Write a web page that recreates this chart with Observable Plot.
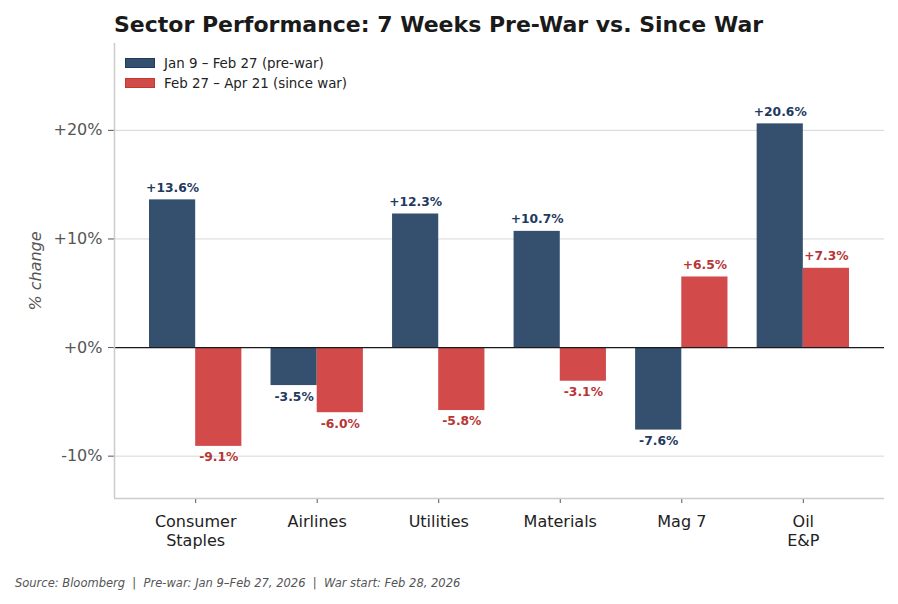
<!DOCTYPE html>
<html>
<head>
<meta charset="utf-8">
<script src="https://cdn.jsdelivr.net/npm/d3@7"></script>
<script src="https://cdn.jsdelivr.net/npm/@observablehq/plot@0.6"></script>
<style>
  html, body { margin: 0; padding: 0; background: #fff; }
  body { width: 898px; height: 604px; position: relative; font-family: "DejaVu Sans", sans-serif; overflow: hidden; }
  #title { position: absolute; left: 114px; top: 12px; font-size: 22px; font-weight: bold; color: #1a1a1a; white-space: nowrap; }
  #chart { position: absolute; left: 0; top: 40px; }
  #legend { position: absolute; left: 125px; top: 53px; font-size: 13.4px; color: #222; }
  #legend .row { display: flex; align-items: center; height: 20px; }
  #legend .sw { width: 30px; height: 10px; margin-right: 9px; box-sizing: border-box; }
  #caption { position: absolute; left: 15px; top: 576px; font-size: 11.5px; font-style: italic; color: #555; white-space: nowrap; }
</style>
</head>
<body>
<div id="title">Sector Performance: 7 Weeks Pre-War vs. Since War</div>
<div id="chart"></div>
<div id="legend"></div>
<div id="caption">Source: Bloomberg &nbsp;|&nbsp; Pre-war: Jan 9–Feb 27, 2026 &nbsp;|&nbsp; War start: Feb 28, 2026</div>
<script>
const categories = ["Consumer\nStaples", "Airlines", "Utilities", "Materials", "Mag 7", "Oil\nE&P"];
const preWar = [13.6, -3.5, 12.3, 10.7, -7.6, 20.6];
const sinceWar = [-9.1, -6.0, -5.8, -3.1, 6.5, 7.3];
const seriesNames = ["Jan 9 – Feb 27 (pre-war)", "Feb 27 – Apr 21 (since war)"];
const seriesFill = ["#34506e", "#d24a4a"];
const seriesEdge = ["#1f3a5f", "#c0392b"];
const seriesText = ["#1f3a5f", "#b83535"];
const yTicks = [-10, 0, 10, 20];

const barW = 0.38;
const rows = [];
categories.forEach((c, i) => {
  rows.push({i, s: 0, v: preWar[i], x1: i - barW, x2: i});
  rows.push({i, s: 1, v: sinceWar[i], x1: i, x2: i + barW});
});
const fmt = v => (v >= 0 ? "+" : "") + v.toFixed(1) + "%";
const labelOpts = {
  x: d => (d.x1 + d.x2) / 2, y: "v",
  text: d => fmt(d.v),
  fill: d => seriesText[d.s],
  fontWeight: "bold", fontSize: 12.3
};

const plot = Plot.plot({
  width: 898,
  height: 520,
  marginLeft: 114,
  marginRight: 14,
  marginTop: 3,
  marginBottom: 62,
  style: {fontFamily: "DejaVu Sans, sans-serif", background: "#fff"},
  x: {domain: [-0.668, categories.length - 1 + 0.668], axis: null},
  y: {domain: [-13.9, 28], axis: null},
  marks: [
    Plot.gridY(yTicks, {stroke: "#cccccc", strokeOpacity: 1, strokeWidth: 0.8}),
    Plot.rectY(rows, {x1: "x1", x2: "x2", y1: 0, y2: "v", fill: d => seriesFill[d.s], inset: 0}),
    Plot.ruleY([0], {stroke: "#1a1a1a", strokeWidth: 1.2}),
    Plot.text(rows.filter(d => d.v >= 0), {...labelOpts, dy: -12}),
    Plot.text(rows.filter(d => d.v < 0), {...labelOpts, dy: 11}),
    Plot.axisY(yTicks, {
      tickFormat: v => (v >= 0 ? "+" : "") + v + "%",
      tickSize: 6, tickPadding: 6, stroke: "#555", fill: "#555", fontSize: 16,
      label: null
    }),
    Plot.axisX(d3.range(categories.length), {
      tickFormat: i => categories[i],
      tickSize: 5, tickPadding: 10, stroke: "#555", fill: "#222", fontSize: 16,
      label: null, lineHeight: 1.18
    }),
    Plot.ruleX([-0.668], {stroke: "#cccccc", strokeWidth: 1.5}),
    Plot.ruleY([-13.9], {stroke: "#cccccc", strokeWidth: 1.5}),
    Plot.text(["% change"], {
      frameAnchor: "left", dx: -79, rotate: -90, text: d => d, textAnchor: "middle",
      fill: "#555", fontSize: 16, fontStyle: "italic"
    })
  ]
});
document.getElementById("chart").appendChild(plot);

const legend = document.getElementById("legend");
seriesNames.forEach((n, k) => {
  const row = document.createElement("div");
  row.className = "row";
  const sw = document.createElement("div");
  sw.className = "sw";
  sw.style.background = seriesFill[k];
  sw.style.border = "1.5px solid " + seriesEdge[k];
  const t = document.createElement("span");
  t.textContent = n;
  row.appendChild(sw); row.appendChild(t);
  legend.appendChild(row);
});
</script>
</body>
</html>
